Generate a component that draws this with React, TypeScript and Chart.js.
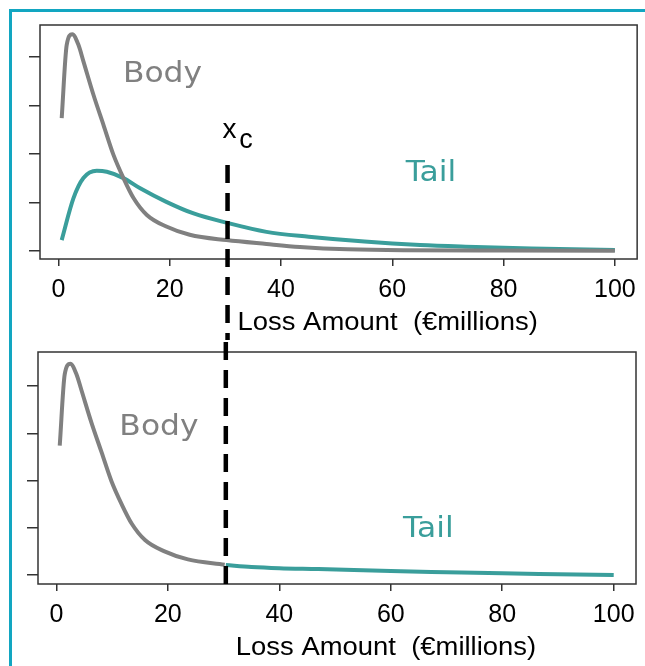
import React, { useEffect, useRef } from "react";
import { Chart, registerables } from "chart.js";

Chart.register(...registerables);

// ---------------- data ----------------
const X_TICKS = [0, 20, 40, 60, 80, 100];
const Y_TICKS = [0, 1, 2, 3, 4];
const XC = 30.4;
const X_TITLE = "Loss Amount  (€millions)";

// body density (top panel grey, bottom panel grey up to xc)
const bodyX = [0.6, 1.5, 2.5, 3.6, 4.5, 6.3, 8.1, 9.9, 11.7, 13.5, 15.9, 19.4, 23.6, 30.2, 37.4, 43.4, 52, 62, 80, 100];
const bodyY = [2.74, 4.25, 4.47, 4.25, 3.91, 3.22, 2.6, 1.98, 1.5, 1.09, 0.74, 0.5, 0.33, 0.22, 0.14, 0.08, 0.03, 0.01, 0.005, 0.0];

// tail density (top panel teal)
const tailX = [0.6, 2.7, 4.5, 6.9, 8.7, 11.7, 14.7, 19.4, 24.3, 30.2, 37.4, 45, 55, 65, 75, 85, 100];
const tailY = [0.22, 1.08, 1.5, 1.65, 1.63, 1.5, 1.29, 1.01, 0.77, 0.58, 0.39, 0.29, 0.19, 0.12, 0.08, 0.045, 0.015];

// spliced tail beyond xc (bottom panel teal)
const splicedX = [30.4, 35, 40, 47, 60, 70, 80, 90, 100];
const splicedY = [0.21, 0.17, 0.145, 0.127, 0.085, 0.06, 0.036, 0.018, 0.0];

// ---------------- styles ----------------
const GREY = "#808080";
const TEAL = "#3a9e9b";
const FRAME = "#12a6c1";
const AXIS = "#333333";
const FONT = "'Liberation Sans', Arial, sans-serif";
const LABEL_FONT = "'DejaVu Sans', 'Liberation Sans', sans-serif";

const pts = (xs: number[], ys: number[]) => xs.map((x, i) => ({ x, y: ys[i] }));

type Label = { text: string; x: number; y: number; color: string; size: number; sx: number; font: string };

function panelPlugin(labels: Label[], dashFrom: number | null) {
  return {
    id: "panelDecor",
    afterDatasetsDraw(chart: any) {
      const { ctx, chartArea: a, scales } = chart;
      const xs = scales.x;
      const ys = scales.y;
      ctx.save();
      // box
      ctx.strokeStyle = AXIS;
      ctx.lineWidth = 1.5;
      ctx.setLineDash([]);
      ctx.strokeRect(a.left, a.top, a.right - a.left, a.bottom - a.top);
      // dashed threshold line
      const px = xs.getPixelForValue(XC);
      ctx.strokeStyle = "#000";
      ctx.lineWidth = 4.5;
      ctx.setLineDash([18, 10]);
      ctx.beginPath();
      if (dashFrom !== null) {
        ctx.moveTo(px, ys.getPixelForValue(dashFrom));
        ctx.lineTo(px, chart.height);
      } else {
        ctx.moveTo(px, a.bottom);
        ctx.lineTo(px, 0);
      }
      ctx.stroke();
      ctx.setLineDash([]);
      // text labels
      ctx.textAlign = "left";
      ctx.textBaseline = "alphabetic";
      for (const l of labels) {
        ctx.save();
        ctx.translate(xs.getPixelForValue(l.x), ys.getPixelForValue(l.y));
        ctx.scale(l.sx, 1);
        ctx.font = `${l.size}px ${l.font}`;
        ctx.fillStyle = l.color;
        ctx.fillText(l.text, 0, 0);
        ctx.restore();
      }
      // x axis title
      ctx.save();
      ctx.translate(px + 10, a.bottom + 71);
      ctx.scale(1.055, 1);
      ctx.font = `26px ${FONT}`;
      ctx.fillStyle = "#000";
      ctx.fillText(X_TITLE, 0, 0);
      ctx.restore();
      ctx.restore();
    },
  };
}

function makeOptions(yMin: number, yMax: number, padTop: number, padRight: number, yW: number, xH: number) {
  return {
    animation: false,
    responsive: false,
    devicePixelRatio: 1,
    events: [],
    layout: { padding: { left: 0, top: padTop, right: padRight, bottom: 0 } },
    plugins: { legend: { display: false }, tooltip: { enabled: false }, title: { display: false } },
    scales: {
      x: {
        type: "linear",
        min: -3.3,
        max: 104,
        afterBuildTicks: (s: any) => {
          s.ticks = X_TICKS.map((v) => ({ value: v }));
        },
        afterFit: (s: any) => {
          s.height = xH;
        },
        ticks: {
          font: { family: FONT, size: 25 },
          color: "#000",
          padding: 9,
          maxRotation: 0,
          autoSkip: false,
          callback: (v: any) => String(v),
        },
        grid: { drawOnChartArea: false, drawTicks: true, tickLength: 7, color: AXIS, lineWidth: 1.5 },
        border: { display: false },
      },
      y: {
        type: "linear",
        min: yMin,
        max: yMax,
        afterBuildTicks: (s: any) => {
          s.ticks = Y_TICKS.map((v) => ({ value: v }));
        },
        afterFit: (s: any) => {
          s.width = yW;
        },
        ticks: { display: false },
        grid: { drawOnChartArea: false, drawTicks: true, tickLength: 11, color: AXIS, lineWidth: 1.5 },
        border: { display: false },
      },
    },
  };
}

const lineDs = (data: any[], color: string) => ({
  data,
  borderColor: color,
  borderWidth: 4,
  pointRadius: 0,
  fill: false,
  cubicInterpolationMode: "monotone",
  borderCapStyle: "butt",
  borderJoinStyle: "round",
});

export default function App() {
  const topRef = useRef<HTMLCanvasElement>(null);
  const botRef = useRef<HTMLCanvasElement>(null);

  useEffect(() => {
    const topLabels: Label[] = [
      { text: "Body", x: 11.6, y: 3.49, color: GREY, size: 28.5, sx: 1.1, font: LABEL_FONT },
      { text: "Tail", x: 62.4, y: 1.43, color: TEAL, size: 28.5, sx: 1.1, font: LABEL_FONT },
      { text: "x", x: 29.5, y: 2.32, color: "#000", size: 28, sx: 1, font: FONT },
      { text: "c", x: 32.5, y: 2.13, color: "#000", size: 27, sx: 1, font: FONT },
    ];
    const botLabels: Label[] = [
      { text: "Body", x: 11.3, y: 2.96, color: GREY, size: 28.5, sx: 1.1, font: LABEL_FONT },
      { text: "Tail", x: 62.2, y: 0.81, color: TEAL, size: 28.5, sx: 1.1, font: LABEL_FONT },
    ];

    const bodyPts = pts(bodyX, bodyY);
    const c1 = new Chart(topRef.current as HTMLCanvasElement, {
      type: "line",
      data: { datasets: [lineDs(bodyPts, GREY), lineDs(pts(tailX, tailY), TEAL)] as any },
      options: makeOptions(-0.17, 4.66, 25, 7, 40, 81) as any,
      plugins: [panelPlugin(topLabels, 1.77)],
    });
    const c2 = new Chart(botRef.current as HTMLCanvasElement, {
      type: "line",
      data: {
        datasets: [
          lineDs(bodyPts.filter((p) => p.x <= XC), GREY),
          lineDs(pts(splicedX, splicedY), TEAL),
        ] as any,
      },
      options: makeOptions(-0.19, 4.72, 12, 9, 38, 82) as any,
      plugins: [panelPlugin(botLabels, null)],
    });
    return () => {
      c1.destroy();
      c2.destroy();
    };
  }, []);

  return (
    <div style={{ position: "fixed", left: 0, top: 0, width: 645, height: 666, background: "#fff", overflow: "hidden" }}>
      <div
        style={{
          position: "absolute",
          left: 9,
          top: 9,
          width: 700,
          height: 700,
          borderLeft: `3px solid ${FRAME}`,
          borderTop: `3px solid ${FRAME}`,
        }}
      />
      <canvas ref={topRef} width={645} height={340} style={{ position: "absolute", left: 0, top: 0 }} />
      <canvas ref={botRef} width={645} height={326} style={{ position: "absolute", left: 0, top: 340 }} />
    </div>
  );
}
